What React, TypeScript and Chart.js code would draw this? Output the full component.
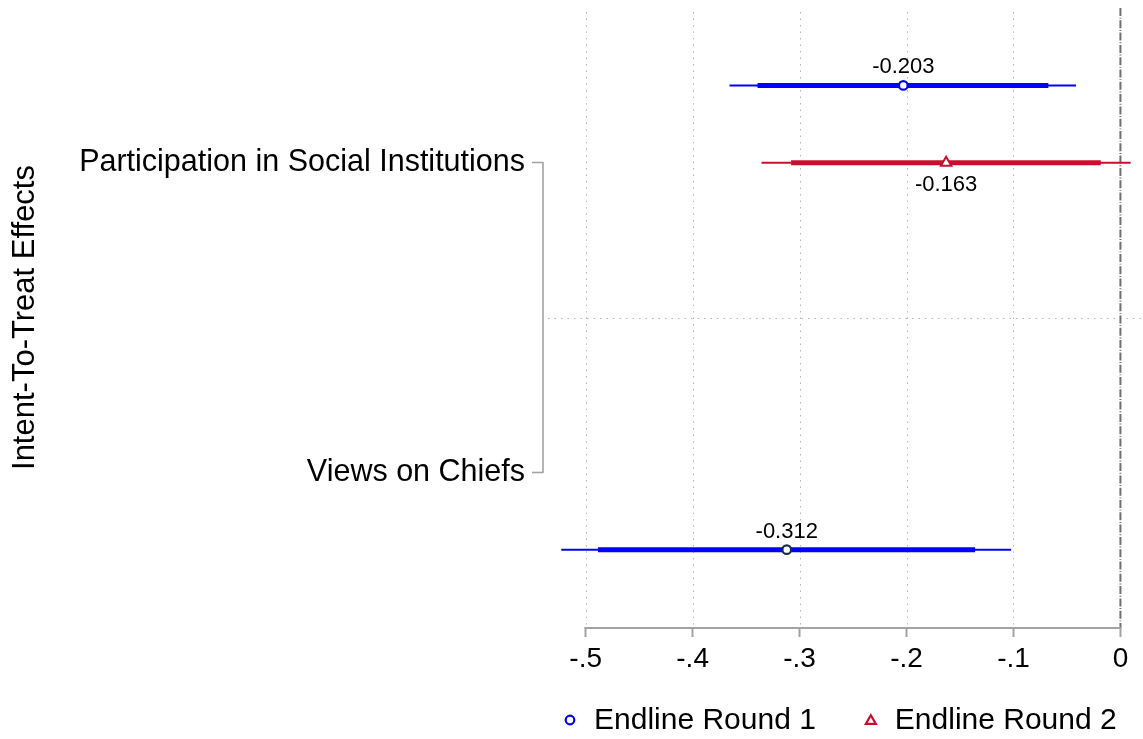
import { useEffect, useRef } from 'react';
import { Chart, registerables } from 'chart.js';

Chart.register(...registerables);

const FONT = '"Liberation Sans", Arial, Helvetica, sans-serif';

// Outcome groups on the vertical axis and where their labels sit
const categories = ['Participation in Social Institutions', 'Views on Chiefs'];
const categorySlots = [2, 6];
const groupTitle = 'Intent-To-Treat Effects';
const separatorSlot = 4;

const seriesNames = ['Endline Round 1', 'Endline Round 2'];

// Endline round 1: point estimates with 95% (thin) and 90% (thick) intervals
const round1Slots = [1, 7];
const round1Est = [-0.203, -0.312];
const round1Lo95 = [-0.3655, -0.5228];
const round1Hi95 = [-0.0415, -0.1022];
const round1Lo90 = [-0.3393, -0.4885];
const round1Hi90 = [-0.0674, -0.1359];

// Endline round 2: only measured for the first outcome group
const round2Slots = [2];
const round2Est = [-0.163];
const round2Lo95 = [-0.3356];
const round2Hi95 = [0.0096];
const round2Lo90 = [-0.3079];
const round2Hi90 = [-0.0184];

const xTicks = [-0.5, -0.4, -0.3, -0.2, -0.1, 0];
const xMin = -0.5399;
const xMax = 0.0211;

const BLUE = '#0000ff';
const NAVY = '#1b2a4e';
const RED = '#c8102e';
const AXIS_GRAY = '#a3a3a3';
const GRID_GRAY = '#b4b4b4';

const formatTick = (v: number) => {
  if (Math.abs(v) < 1e-9) return '0';
  const s = Math.abs(v).toFixed(1).replace(/^0/, '');
  return (v < 0 ? '-' : '') + s;
};

function drawMarker(ctx: CanvasRenderingContext2D, kind: 'circle' | 'triangle', color: string, cx: number, cy: number) {
  ctx.save();
  ctx.fillStyle = '#fff';
  ctx.strokeStyle = color;
  ctx.lineWidth = 2.2;
  ctx.setLineDash([]);
  ctx.beginPath();
  if (kind === 'circle') {
    ctx.arc(cx, cy, 4.3, 0, Math.PI * 2);
  } else {
    const r = 5.8;
    for (let i = 0; i < 3; i++) {
      const a = (i * 2 * Math.PI) / 3;
      const px = cx + Math.sin(a) * r;
      const py = cy + 1 - Math.cos(a) * r;
      if (i === 0) ctx.moveTo(px, py);
      else ctx.lineTo(px, py);
    }
    ctx.closePath();
  }
  ctx.fill();
  ctx.stroke();
  ctx.restore();
}

function intervalSets(
  slots: number[],
  lo: number[],
  hi: number[],
  color: string,
  width: number,
  order: number
) {
  return slots.map((slot, i) => ({
    type: 'scatter' as const,
    data: [
      { x: lo[i], y: slot },
      { x: hi[i], y: slot },
    ],
    showLine: true,
    borderColor: color,
    borderWidth: width,
    borderCapStyle: 'butt' as const,
    pointRadius: 0,
    order,
  }));
}

const decorPlugin = {
  id: 'coefDecor',
  beforeDatasetsDraw(chart: any) {
    const { ctx, chartArea, scales } = chart;
    const x = scales.x;
    const y = scales.y;
    ctx.save();

    // dotted reference lines at each tick except zero
    ctx.strokeStyle = GRID_GRAY;
    ctx.lineWidth = 1;
    ctx.setLineDash([1.5, 5]);
    xTicks.forEach((t) => {
      if (t === 0) return;
      const px = Math.round(x.getPixelForValue(t)) + 0.5;
      ctx.beginPath();
      ctx.moveTo(px, chartArea.top + 4);
      ctx.lineTo(px, chartArea.bottom);
      ctx.stroke();
    });

    // dotted divider between the two outcome groups
    const sy = Math.round(y.getPixelForValue(separatorSlot)) + 0.5;
    ctx.beginPath();
    ctx.moveTo(chartArea.left + 5, sy);
    ctx.lineTo(chartArea.right, sy);
    ctx.stroke();

    // zero reference line
    ctx.strokeStyle = '#6f6f6f';
    ctx.lineWidth = 2;
    ctx.setLineDash([8, 1.7, 0.9, 1.7]);
    const zx = x.getPixelForValue(0);
    ctx.beginPath();
    ctx.moveTo(zx, chartArea.top);
    ctx.lineTo(zx, chartArea.bottom);
    ctx.stroke();

    // x axis line spanning the labelled range
    ctx.setLineDash([]);
    ctx.strokeStyle = AXIS_GRAY;
    ctx.lineWidth = 2;
    ctx.beginPath();
    ctx.moveTo(x.getPixelForValue(xTicks[0]) - 1, chartArea.bottom + 1);
    ctx.lineTo(x.getPixelForValue(xTicks[xTicks.length - 1]) + 1, chartArea.bottom + 1);
    ctx.stroke();

    // bracket joining the outcome labels
    ctx.lineWidth = 1.6;
    ctx.beginPath();
    ctx.moveTo(chartArea.left, y.getPixelForValue(categorySlots[0]) - 0.8);
    ctx.lineTo(chartArea.left, y.getPixelForValue(categorySlots[categorySlots.length - 1]) + 0.8);
    ctx.stroke();
    ctx.restore();
  },
  afterDatasetsDraw(chart: any) {
    const { ctx, scales } = chart;
    const x = scales.x;
    const y = scales.y;
    ctx.save();
    ctx.font = `22px ${FONT}`;
    ctx.fillStyle = '#000';
    ctx.textAlign = 'center';
    ctx.textBaseline = 'middle';
    round1Est.forEach((v, i) => {
      ctx.fillText(v.toFixed(3), x.getPixelForValue(v), y.getPixelForValue(round1Slots[i]) - 18);
    });
    round2Est.forEach((v, i) => {
      ctx.fillText(v.toFixed(3), x.getPixelForValue(v), y.getPixelForValue(round2Slots[i]) + 22);
    });
    ctx.restore();
  },
  afterDraw(chart: any) {
    // legend row under the plot
    const { ctx, chartArea } = chart;
    ctx.save();
    ctx.font = `30px ${FONT}`;
    ctx.fillStyle = '#000';
    ctx.textAlign = 'left';
    ctx.textBaseline = 'middle';
    const ly = chartArea.bottom + 94;
    const kinds: ('circle' | 'triangle')[] = ['circle', 'triangle'];
    const colors = [BLUE, RED];
    let mx = chartArea.left + 27;
    seriesNames.forEach((name, i) => {
      drawMarker(ctx, kinds[i], colors[i], mx, ly - 1);
      const tx = mx + 24;
      ctx.fillText(name, tx, ly);
      mx = tx + ctx.measureText(name).width + 55;
    });
    ctx.restore();
  },
};

export default function App() {
  const ref = useRef<HTMLCanvasElement>(null);

  useEffect(() => {
    if (!ref.current) return;
    Chart.defaults.font.family = FONT;
    Chart.defaults.color = '#000';

    const datasets: any[] = [
      {
        type: 'scatter',
        label: seriesNames[0],
        data: round1Est.map((v, i) => ({ x: v, y: round1Slots[i] })),
        pointStyle: 'circle',
        pointRadius: 4.3,
        pointBorderWidth: 2.2,
        pointBackgroundColor: '#fff',
        pointBorderColor: [BLUE, NAVY],
        order: 0,
      },
      {
        type: 'scatter',
        label: seriesNames[1],
        data: round2Est.map((v, i) => ({ x: v, y: round2Slots[i] })),
        pointStyle: 'triangle',
        pointRadius: 6,
        pointBorderWidth: 2,
        pointBackgroundColor: '#fff',
        pointBorderColor: RED,
        order: 0,
      },
      ...intervalSets(round1Slots, round1Lo90, round1Hi90, BLUE, 5, 1),
      ...intervalSets(round2Slots, round2Lo90, round2Hi90, RED, 5, 1),
      ...intervalSets(round1Slots, round1Lo95, round1Hi95, BLUE, 2, 2),
      ...intervalSets(round2Slots, round2Lo95, round2Hi95, RED, 2, 2),
    ];

    const chart = new Chart(ref.current, {
      type: 'scatter',
      data: { datasets },
      plugins: [decorPlugin],
      options: {
        animation: false,
        responsive: true,
        maintainAspectRatio: false,
        events: [],
        layout: { autoPadding: false, padding: { top: 8, left: 0, right: 0, bottom: 52 } },
        scales: {
          x: {
            type: 'linear',
            min: xMin,
            max: xMax,
            afterBuildTicks: (scale: any) => {
              scale.ticks = xTicks.map((v) => ({ value: v }));
            },
            afterFit: (scale: any) => {
              scale.height = 60;
              scale.paddingLeft = 0;
              scale.paddingRight = 0;
            },
            ticks: {
              autoSkip: false,
              maxRotation: 0,
              padding: 5,
              color: '#000',
              font: { size: 28 },
              callback: (v: any) => formatTick(Number(v)),
            },
            grid: {
              display: true,
              drawOnChartArea: false,
              drawTicks: true,
              tickLength: 10,
              tickColor: AXIS_GRAY,
              tickWidth: 2,
            },
            border: { display: false },
          },
          y: {
            type: 'linear',
            reverse: true,
            min: 0,
            max: 8,
            afterBuildTicks: (scale: any) => {
              scale.ticks = categorySlots.map((v) => ({ value: v }));
            },
            afterFit: (scale: any) => {
              scale.width = 543;
              scale.paddingTop = 0;
              scale.paddingBottom = 0;
            },
            ticks: {
              autoSkip: false,
              padding: 7,
              color: '#000',
              font: { size: 30.5 },
              callback: (v: any) => {
                const idx = categorySlots.indexOf(Number(v));
                return idx >= 0 ? categories[idx] : '';
              },
            },
            grid: {
              display: true,
              drawOnChartArea: false,
              drawTicks: true,
              tickLength: 11,
              tickColor: AXIS_GRAY,
              tickWidth: 1.6,
            },
            border: { display: false },
            title: {
              display: true,
              text: groupTitle,
              color: '#000',
              font: { size: 31 },
              padding: { top: 7, bottom: 0 },
            },
          },
        },
        plugins: {
          tooltip: { enabled: false },
          legend: { display: false },
        },
      },
    } as any);

    return () => chart.destroy();
  }, []);

  return (
    <div
      style={{
        position: 'fixed',
        left: 0,
        top: 0,
        width: 1143,
        height: 739,
        background: '#fff',
      }}
    >
      <canvas ref={ref} />
    </div>
  );
}
